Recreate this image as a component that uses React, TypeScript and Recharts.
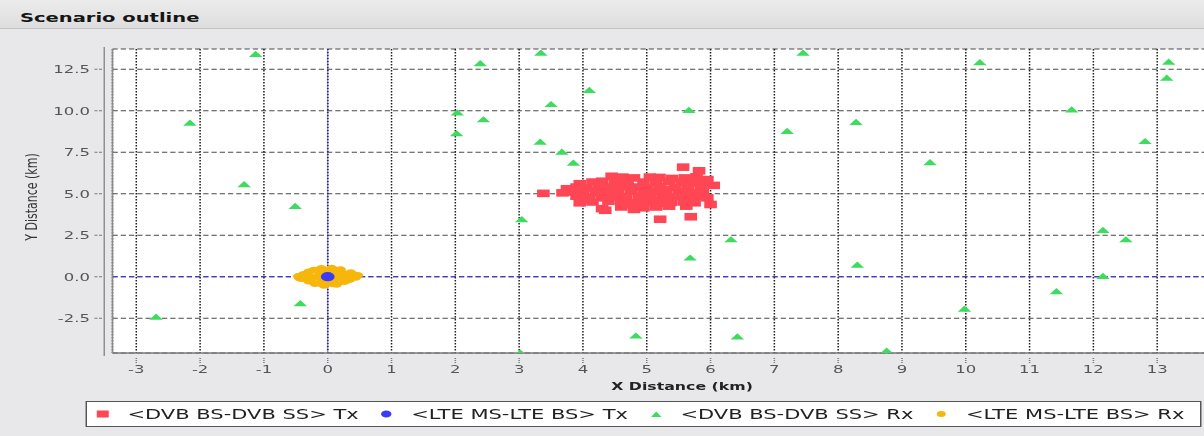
import React from 'react';
import { ScatterChart, Scatter, XAxis, YAxis, CartesianGrid, ReferenceLine } from 'recharts';

// ---------- data ----------
const xTicks = [-3, -2, -1, 0, 1, 2, 3, 4, 5, 6, 7, 8, 9, 10, 11, 12, 13];
const yTicks = [-2.5, 0, 2.5, 5, 7.5, 10, 12.5];

const seriesNames = [
  '<DVB BS-DVB SS> Tx',
  '<LTE MS-LTE BS> Tx',
  '<DVB BS-DVB SS> Rx',
  '<LTE MS-LTE BS> Rx',
];

// <DVB BS-DVB SS> Tx (red squares)
const dvbTx: [number, number][] = [
  [4.45, 6.05], [4.62, 6.0], [4.8, 5.95], [5.05, 6.0], [5.2, 5.98], [5.4, 5.92], [5.6, 5.95], [5.78, 6.02],
  [3.95, 5.6], [4.15, 5.7], [4.3, 5.75], [4.5, 5.68], [4.7, 5.72], [4.95, 5.7], [5.15, 5.65], [5.35, 5.72], [5.55, 5.7], [5.72, 5.65], [5.9, 5.6],
  [3.75, 5.3], [3.9, 5.4], [4.05, 5.35], [4.25, 5.45], [4.42, 5.38], [4.6, 5.42], [4.85, 5.4], [5.0, 5.35], [5.2, 5.42], [5.45, 5.38], [5.65, 5.45], [5.85, 5.35], [6.05, 5.5],
  [3.68, 5.05], [3.85, 5.1], [4.0, 5.15], [4.2, 5.05], [4.38, 5.12], [4.55, 5.08], [4.75, 5.15], [4.95, 5.05], [5.1, 5.12], [5.3, 5.08], [5.5, 5.12], [5.7, 5.05], [5.88, 5.1],
  [3.9, 4.85], [4.1, 4.8], [4.3, 4.75], [4.5, 4.82], [4.68, 4.78], [4.88, 4.85], [5.05, 4.8], [5.25, 4.75], [5.42, 4.82], [5.6, 4.78], [5.78, 4.85], [5.95, 4.75],
  [3.95, 4.45], [4.15, 4.5], [4.4, 4.55], [4.6, 4.5], [4.85, 4.45], [5.0, 4.5], [5.2, 4.42], [5.38, 4.48], [5.58, 4.5], [5.75, 4.45], [6.0, 4.35],
  [4.3, 4.1], [4.6, 4.2], [4.8, 4.05], [4.95, 4.15], [5.15, 4.2], [5.35, 4.25],
  [4.22, 5.2], [4.68, 5.55], [5.28, 5.25], [5.52, 4.95], [4.48, 4.95], [5.12, 4.62], [4.78, 4.35], [5.62, 4.25], [4.08, 4.65], [5.95, 5.85],
  [3.38, 5.02], [5.57, 6.6], [5.82, 6.38], [5.21, 3.46], [5.69, 3.61], [4.35, 4.0],
];

// <LTE MS-LTE BS> Tx (blue dot)
const lteTx: [number, number][] = [[0, 0]];

// <DVB BS-DVB SS> Rx (green triangles)
const dvbRx: [number, number][] = [
  [-1.13, 13.42], [2.39, 12.86], [3.34, 13.5], [-2.16, 9.28], [2.03, 9.9], [2.44, 9.48], [2.02, 8.64],
  [3.33, 8.13], [3.5, 10.4], [-1.31, 5.57], [-0.51, 4.26], [3.04, 3.46], [-0.43, -1.6], [-2.69, -2.41],
  [3.02, -4.58], [7.45, 13.5], [4.1, 11.25], [5.66, 10.04], [7.2, 8.78], [8.28, 9.32], [3.67, 7.53],
  [3.85, 6.87], [9.44, 6.9], [6.32, 2.25], [5.68, 1.15], [8.3, 0.72], [4.83, -3.55], [6.42, -3.61],
  [8.76, -4.46], [10.22, 12.92], [13.18, 12.95], [13.15, 11.99], [11.66, 10.08], [12.81, 8.17],
  [12.15, 2.81], [12.51, 2.25], [12.15, 0.04], [11.42, -0.88], [9.98, -1.93],
];

// <LTE MS-LTE BS> Rx (yellow blob around origin)
const lteRx: [number, number][] = [
  [-0.46, 0.02], [-0.4, -0.12], [-0.38, 0.14], [-0.3, 0.28], [-0.3, -0.26], [-0.22, 0.4], [-0.22, -0.05],
  [-0.2, -0.42], [-0.1, 0.5], [-0.12, 0.18], [-0.08, -0.22], [-0.06, -0.52], [0.0, 0.34], [0.02, -0.34],
  [0.06, 0.52], [0.08, 0.08], [0.1, -0.16], [0.12, 0.28], [0.14, -0.46], [0.2, 0.42], [0.22, -0.05],
  [0.25, 0.18], [0.26, -0.3], [0.32, 0.05], [0.35, -0.16], [0.36, 0.24], [0.44, -0.04], [0.47, 0.08],
  [-0.44, -0.08], [-0.15, 0.0], [0.0, 0.0], [-0.32, 0.05], [0.18, 0.1], [-0.26, -0.14], [0.3, -0.22],
  [-0.14, 0.38], [0.1, 0.42], [-0.12, -0.4], [0.08, -0.44], [0.4, 0.12], [-0.38, -0.02],
];

const toPts = (a: [number, number][]) => a.map(([x, y]) => ({ x, y }));

// ---------- style ----------
const RED = '#ff4655';
const BLUE = '#3b3bf5';
const GREEN = '#3ddc5e';
const YELLOW = '#f7b60c';
const FONT = '"DejaVu Sans", Verdana, sans-serif';

const XMIN = -3.373;
const XMAX = 14;
const YMIN = -4.6;
const YMAX = 13.72;

const RedSquare = (p: any) => <rect x={p.cx - 4.2} y={p.cy - 3.8} width={8.4} height={7.6} fill={RED} />;
const BlueDot = (p: any) => <circle cx={p.cx} cy={p.cy} r={4.6} fill={BLUE} />;
const GreenTri = (p: any) => (
  <polygon points={`${p.cx - 4.5},${p.cy + 3} ${p.cx + 4.5},${p.cy + 3} ${p.cx},${p.cy - 3.2}`} fill={GREEN} />
);
const YellowDot = (p: any) => <ellipse cx={p.cx} cy={p.cy} rx={3.6} ry={3.4} fill={YELLOW} />;

const XTick = (p: any) => {
  const { x, y, payload } = p;
  return (
    <g>
      <line x1={x} x2={x} y1={y + 5} y2={y + 11} stroke="#777" strokeDasharray="1 1" />
      <text x={x} y={y + 16.5} textAnchor="middle" dominantBaseline="central" fontSize={11} fill="#555" fontFamily={FONT}>
        {payload.value}
      </text>
    </g>
  );
};

const YTick = (p: any) => {
  const { x, y, payload } = p;
  return (
    <g>
      <line x1={x - 12} x2={x - 6.3} y1={y} y2={y} stroke="#777" strokeDasharray="2 1" />
      <text x={x - 15} y={y} textAnchor="end" dominantBaseline="central" fontSize={11} fill="#555" fontFamily={FONT}>
        {Number(payload.value).toFixed(1)}
      </text>
    </g>
  );
};

const markerFor = (i: number) => {
  if (i === 0) return <rect x={0.5} y={0.5} width={8} height={7} fill={RED} />;
  if (i === 1) return <circle cx={4.5} cy={4} r={3.5} fill={BLUE} />;
  if (i === 2) return <polygon points="1,7 8,7 4.5,1.5" fill={GREEN} />;
  return <circle cx={4.5} cy={4} r={3} fill={YELLOW} />;
};

export default function App() {
  return (
    <div
      style={{
        position: 'fixed',
        left: 0,
        top: 0,
        width: 1204,
        height: 436,
        overflow: 'hidden',
        background: '#e8e8ea',
      }}
    >
      <div
        style={{
          position: 'absolute',
          left: 0,
          top: 0,
          width: 803,
          height: 436,
          transform: 'scaleX(1.5)',
          transformOrigin: '0 0',
          fontFamily: FONT,
        }}
      >
        {/* title bar */}
        <div
          style={{
            position: 'absolute',
            left: 0,
            top: 0,
            width: 803,
            height: 28,
            background: 'linear-gradient(#ececec, #dedede)',
            borderBottom: '1px solid #c2c2c2',
          }}
        />
        <div
          style={{
            position: 'absolute',
            left: 13.3,
            top: 10,
            fontSize: 13,
            lineHeight: '16px',
            fontWeight: 'bold',
            color: '#151515',
            whiteSpace: 'nowrap',
          }}
        >
          Scenario outline
        </div>

        {/* chart */}
        <div style={{ position: 'absolute', left: 0, top: 0 }}>
          <ScatterChart width={814} height={383} margin={{ top: 49, right: 0, bottom: 0, left: 0 }}>
            <CartesianGrid vertical={false} stroke="#4a4a4a" strokeDasharray="3.5 2" fill="#ffffff" />
            <CartesianGrid horizontal={false} stroke="#1e1e1e" strokeWidth={1} strokeDasharray="1.5 1.5" />
            <XAxis
              type="number"
              dataKey="x"
              domain={[XMIN, XMAX]}
              allowDataOverflow
              ticks={xTicks}
              interval={0}
              height={30}
              tickSize={0}
              tickMargin={0}
              tickLine={false}
              axisLine={{ stroke: '#7a7a7a', strokeWidth: 1.5 }}
              tick={<XTick />}
            />
            <XAxis
              xAxisId="top"
              orientation="top"
              type="number"
              domain={[XMIN, XMAX]}
              allowDataOverflow
              height={0}
              tick={false}
              tickLine={false}
              axisLine={{ stroke: '#9a9a9a' }}
            />
            <YAxis
              type="number"
              dataKey="y"
              domain={[YMIN, YMAX]}
              allowDataOverflow
              ticks={yTicks}
              interval={0}
              width={75}
              tickSize={0}
              tickMargin={0}
              tickLine={false}
              axisLine={{ stroke: '#8a8a8a' }}
              tick={<YTick />}
            />
            <ReferenceLine x={0} stroke="#1c1cd8" strokeDasharray="1.5 1.5" />
            <ReferenceLine y={0} stroke="#2f2fe0" strokeDasharray="3.5 2" />
            <Scatter name={seriesNames[3]} data={toPts(lteRx)} shape={YellowDot} isAnimationActive={false} />
            <Scatter name={seriesNames[2]} data={toPts(dvbRx)} shape={GreenTri} isAnimationActive={false} />
            <Scatter name={seriesNames[1]} data={toPts(lteTx)} shape={BlueDot} isAnimationActive={false} />
            <Scatter name={seriesNames[0]} data={toPts(dvbTx)} shape={RedSquare} isAnimationActive={false} />
          </ScatterChart>
        </div>

        {/* offset axis line */}
        <div style={{ position: 'absolute', left: 68.5, top: 47, width: 1, height: 309, background: '#8f8f8f' }} />

        {/* axis titles */}
        <div
          style={{
            position: 'absolute',
            left: 454.7,
            top: 386,
            transform: 'translate(-50%, -50%)',
            fontSize: 10.5,
            fontWeight: 'bold',
            color: '#222',
            whiteSpace: 'nowrap',
          }}
        >
          X Distance (km)
        </div>
        <div
          style={{
            position: 'absolute',
            left: 21.1,
            top: 197,
            transform: 'translate(-50%, -50%) rotate(-90deg)',
            fontSize: 11,
            color: '#333',
            whiteSpace: 'nowrap',
          }}
        >
          Y Distance (km)
        </div>

        {/* legend */}
        <div
          style={{
            position: 'absolute',
            left: 57.3,
            top: 401,
            width: 744,
            height: 26,
            boxSizing: 'border-box',
            border: '1px solid #555',
            background: '#ffffff',
            display: 'flex',
            alignItems: 'center',
            paddingLeft: 5.7,
          }}
        >
          {seriesNames.map((n, i) => (
            <div key={n} style={{ display: 'flex', alignItems: 'center', marginRight: 14 }}>
              <svg width={9} height={8} style={{ display: 'block' }}>
                {markerFor(i)}
              </svg>
              <span style={{ marginLeft: 12, fontSize: 14, lineHeight: '16px', color: '#222', whiteSpace: 'nowrap' }}>{n}</span>
            </div>
          ))}
        </div>
      </div>
    </div>
  );
}
